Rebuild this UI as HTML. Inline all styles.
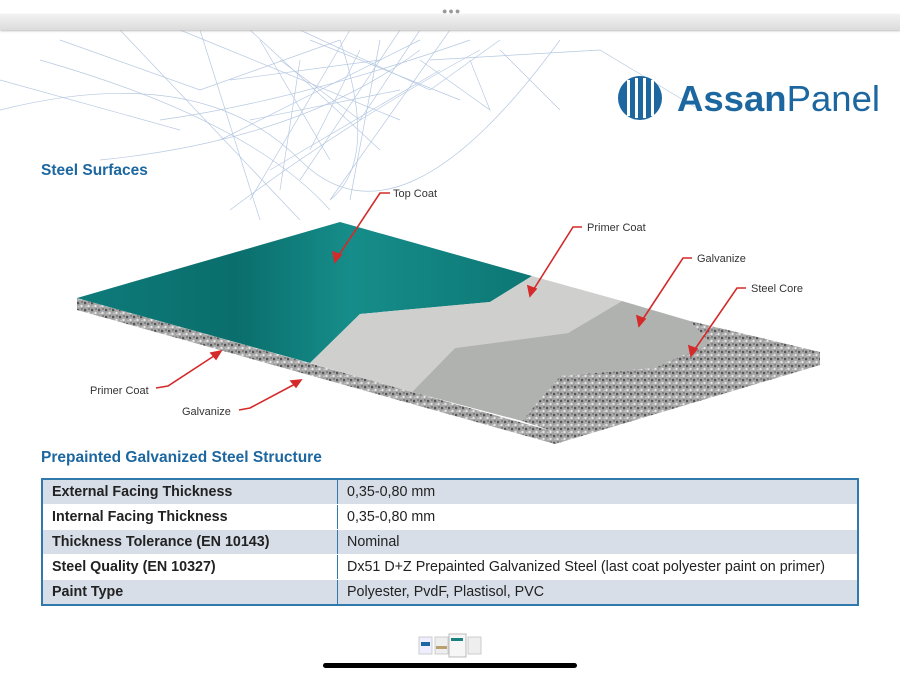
<!DOCTYPE html>
<html><head><meta charset="utf-8"><style>
body{margin:0;width:900px;height:675px;overflow:hidden;background:#fff;font-family:"Liberation Sans",sans-serif;position:relative}
.tb{position:absolute;left:0;top:14px;width:900px;height:16px;background:linear-gradient(#f2f2f2,#dcdcdc);box-shadow:0 1px 2px #bbb}
.h{position:absolute;color:#1d67a0;font-weight:bold;font-size:15.5px}
table{position:absolute;left:41px;top:478px;width:818px;border-collapse:collapse;border:2px solid #3179ad;font-size:14.3px;color:#222}
td{height:24px;padding:0 0 0 9px;border-bottom:1px solid #fff}
td:first-child{font-weight:bold;width:285px;border-right:1.5px solid #3179ad}
tr:nth-child(odd) td{background:#d7dee8}
</style></head><body>
<svg width="900" height="675" style="position:absolute;left:0;top:0">
<defs>
<linearGradient id="tl" x1="0" x2="1"><stop offset="0" stop-color="#0e7b7a"/><stop offset=".35" stop-color="#0a6e6c"/><stop offset=".6" stop-color="#168d8a"/><stop offset="1" stop-color="#0d7775"/></linearGradient>
<pattern id="gr" width="7" height="7" patternUnits="userSpaceOnUse"><rect width="7" height="7" fill="#a6a6a6"/><circle cx="1" cy="2" r="1.3" fill="#555"/><circle cx="4.5" cy="5" r="1.2" fill="#e6e6e6"/><circle cx="5" cy="1" r="1" fill="#777"/><circle cx="2" cy="5.5" r=".8" fill="#ccc"/></pattern>
</defs>
<g stroke="#6f93c4" stroke-width=".7" opacity=".5" fill="none">
<path d="M0 110 Q200 60 300 160 T560 40"/><path d="M40 60 Q250 120 330 210"/><path d="M120 30 L300 220"/><path d="M200 30 L260 220"/><path d="M250 30 L380 150"/><path d="M300 30 L430 90 L500 40"/><path d="M350 30 L250 200"/><path d="M400 30 L300 180"/><path d="M450 30 L330 200"/><path d="M180 30 L400 120"/><path d="M160 120 Q300 100 470 40"/><path d="M100 160 Q300 140 420 50"/><path d="M230 210 Q350 120 480 50"/><path d="M430 60 L600 50 L700 110"/><path d="M470 60 L490 110 L420 60"/><path d="M500 50 L560 110"/><path d="M60 40 L200 90 L340 40"/><path d="M0 80 L180 130"/><path d="M280 60 L360 120 L420 30"/><path d="M340 40 Q380 160 330 200"/>
<path d="M260 40 L330 160"/><path d="M300 60 L280 190"/><path d="M230 80 L380 60"/><path d="M250 120 L400 90"/><path d="M270 170 L440 70"/><path d="M310 40 L460 100"/><path d="M360 50 L310 150"/><path d="M380 40 L350 200"/><path d="M220 140 L420 40"/></g>
<polygon points="77,298 555,432 555,444 77,310" fill="url(#gr)"/>
<polygon points="555,432 820,352 820,365 555,444" fill="url(#gr)"/>
<polygon points="77,298 340,222 532,276 490,302 360,314 310,363" fill="url(#tl)"/>
<polygon points="532,276 622,301 568,333 455,348 412,392 310,363 360,314 490,302" fill="#cfcfcd"/>
<polygon points="622,301 690,321 710,343 655,368 560,376 522,421 412,392 455,348 568,333" fill="#b0b2b0"/>
<polygon points="690,321 820,352 555,432 522,421 560,376 655,368 710,343" fill="url(#gr)"/>
<g stroke="#d42a2a" stroke-width="1.6" fill="#d42a2a">
<polyline points="390,193 380,193 337,258" fill="none"/><polygon points="335,262 333,252 341,255"/>
<polyline points="582,227 573,227 532,292" fill="none"/><polygon points="530,296 528,286 536,289"/>
<polyline points="692,258 683,258 641,322" fill="none"/><polygon points="639,326 637,316 645,319"/>
<polyline points="746,288 737,288 693,352" fill="none"/><polygon points="691,356 689,346 697,349"/>
<polyline points="156,388 168,386 217,354" fill="none"/><polygon points="221,351 211,353 216,359"/>
<polyline points="239,410 250,408 297,383" fill="none"/><polygon points="301,380 291,381 296,387"/>
</g>
<g font-size="11" fill="#333">
<text x="393" y="197">Top Coat</text><text x="587" y="231">Primer Coat</text><text x="697" y="262">Galvanize</text><text x="751" y="292">Steel Core</text><text x="90" y="394">Primer Coat</text><text x="182" y="415">Galvanize</text></g>
<circle cx="640" cy="98" r="22" fill="#1d67a0"/>
<g fill="#fff"><rect x="627" y="80" width="3" height="36"/><rect x="635" y="78" width="3" height="40"/><rect x="643" y="78" width="3" height="40"/><rect x="651" y="80" width="3" height="36"/></g>
<text x="677" y="111" font-size="36" fill="#1d67a0" font-weight="bold" textLength="203" lengthAdjust="spacingAndGlyphs">Assan<tspan font-weight="normal">Panel</tspan></text>
<rect x="419" y="637" width="13" height="17" fill="#eef" stroke="#ccc"/><rect x="421" y="642" width="9" height="4" fill="#1d67a0"/>
<rect x="435" y="637" width="13" height="17" fill="#eee" stroke="#ccc"/><rect x="436" y="646" width="11" height="3" fill="#b8a070"/>
<rect x="449" y="634" width="17" height="23" fill="#f6f6f6" stroke="#bbb"/><rect x="451" y="638" width="12" height="3" fill="#1a8080"/>
<rect x="468" y="637" width="13" height="17" fill="#eee" stroke="#ccc"/>
<rect x="323" y="663" width="254" height="5" rx="2.5" fill="#000"/>
</svg>
<div class="tb"></div>
<div style="position:absolute;left:442px;top:6px;color:#999;font-size:9px;letter-spacing:1px">●●●</div>
<div class="h" style="left:41px;top:162px">Steel Surfaces</div>
<div class="h" style="left:41px;top:449px">Prepainted Galvanized Steel Structure</div>
<table>
<tr><td>External Facing Thickness</td><td>0,35-0,80 mm</td></tr>
<tr><td>Internal Facing Thickness</td><td>0,35-0,80 mm</td></tr>
<tr><td>Thickness Tolerance (EN 10143)</td><td>Nominal</td></tr>
<tr><td>Steel Quality (EN 10327)</td><td>Dx51 D+Z Prepainted Galvanized Steel (last coat polyester paint on primer)</td></tr>
<tr><td>Paint Type</td><td>Polyester, PvdF, Plastisol, PVC</td></tr>
</table>
</body></html>
